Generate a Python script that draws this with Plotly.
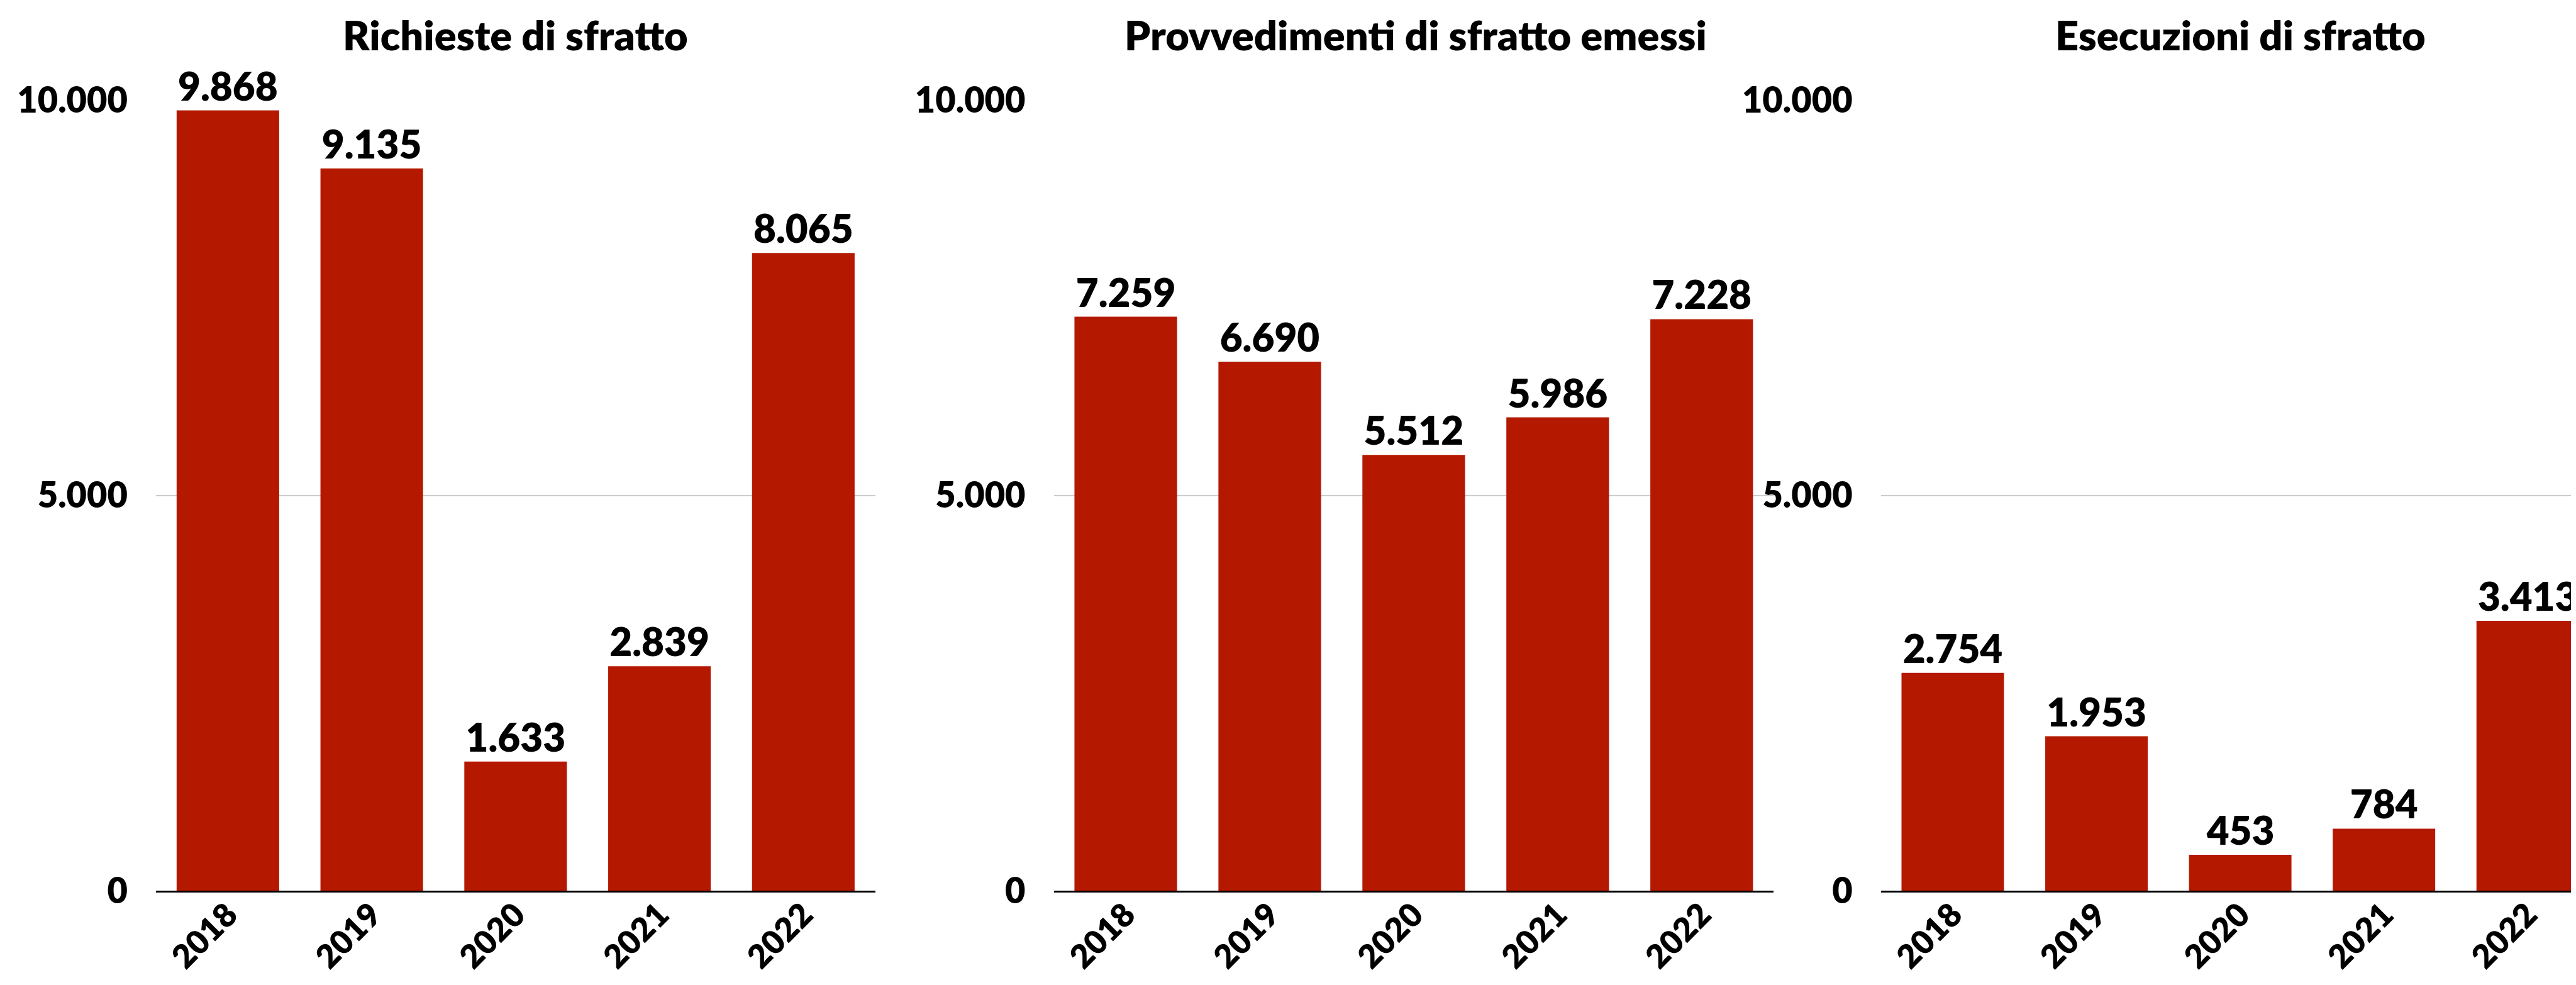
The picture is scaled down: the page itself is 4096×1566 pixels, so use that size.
import plotly.graph_objects as go

# ---- data ----
years = ["2018", "2019", "2020", "2021", "2022"]
richieste = [9868, 9135, 1633, 2839, 8065]
provvedimenti = [7259, 6690, 5512, 5986, 7228]
esecuzioni = [2754, 1953, 453, 784, 3413]
titles = ["Richieste di sfratto", "Provvedimenti di sfratto emessi", "Esecuzioni di sfratto"]
y_ticks = [0, 5000, 10000]

series = [richieste, provvedimenti, esecuzioni]

BAR = "#B41900"
FONT = "Lato"
WEIGHT = 800
W, H = 4096, 1566

x_domains = [[240 / W, 1383.7 / W], [1667.6 / W, 2812.2 / W], [2982.7 / W, 1.0]]
x_ranges = [[-0.5, 4.5], [-0.5, 4.5], [-0.5, 4.371]]
title_x = [811.7 / W, 2242.5 / W, 3554.0 / W]
y_domain = [1 - 1408 / H, 1 - 151 / H]

fig = go.Figure()
for i, vals in enumerate(series):
    sfx = "" if i == 0 else str(i + 1)
    fig.add_trace(go.Bar(
        x=years, y=vals,
        xaxis="x" + sfx, yaxis="y" + sfx,
        marker=dict(color=BAR, line=dict(width=0)),
        width=0.713,
        texttemplate="%{y:,}",
        textposition="outside",
        textfont=dict(family=FONT, size=62, color="black", weight=WEIGHT),
        cliponaxis=False,
        showlegend=False,
    ))
    xa = dict(
        domain=x_domains[i], range=x_ranges[i], anchor="y" + sfx,
        type="category", automargin=False,
        showgrid=False, showline=True, linecolor="black", linewidth=3,
        ticks="", tickangle=-45,
        tickfont=dict(family=FONT, size=52, color="black", weight=WEIGHT),
        ticklabelstandoff=-16,
        zeroline=False, fixedrange=True,
    )
    ya = dict(
        domain=y_domain, range=[0, 10000], anchor="x" + sfx,
        tickvals=y_ticks, tickformat=",", automargin=False,
        showgrid=True, gridcolor="#cccccc", gridwidth=2,
        zeroline=False, showline=False, ticks="",
        tickfont=dict(family=FONT, size=56, color="black", weight=WEIGHT),
        ticklabelstandoff=44,
        fixedrange=True,
    )
    fig.layout["xaxis" + sfx] = xa
    fig.layout["yaxis" + sfx] = ya
    fig.add_annotation(
        text=titles[i], x=title_x[i], xref="paper", xanchor="center",
        y=1 - 6 / H, yref="paper", yanchor="top", showarrow=False,
        font=dict(family=FONT, size=65, color="black", weight=WEIGHT),
    )

fig.update_layout(
    width=W, height=H,
    margin=dict(l=0, r=0, t=0, b=0, autoexpand=False),
    paper_bgcolor="white", plot_bgcolor="white",
    separators=",.",
    bargap=0.287,
)

fig.write_html("out.html")
